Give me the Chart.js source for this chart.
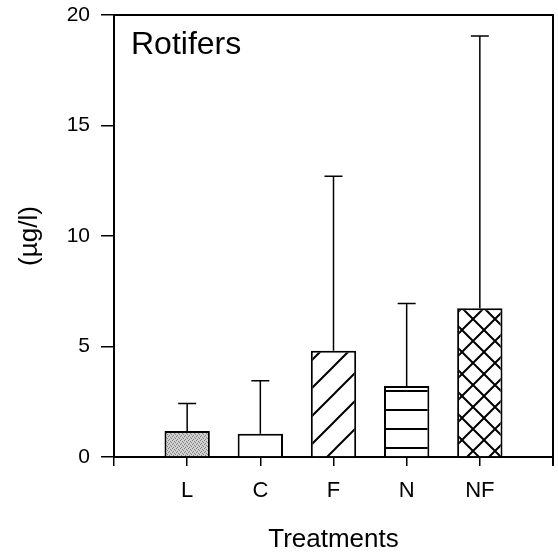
<!DOCTYPE html>
<html>
<head>
<meta charset="utf-8">
<script src="https://cdn.jsdelivr.net/npm/chart.js@4.4.1/dist/chart.umd.min.js"></script>
<style>
  body { margin: 0; background: #fff; }
  #wrap { width: 558px; height: 556px; }
</style>
</head>
<body>
<div id="wrap"><canvas id="myChart" width="558" height="556"></canvas></div>
<script>
// categories (empty ends keep the axis running past L and NF)
const treatments = ["", "L", "C", "F", "N", "NF", ""];
const means = [null, 1.18, 1.05, 4.81, 3.21, 6.73, null];
const upperErr = [null, 2.42, 3.45, 12.7, 6.95, 19.05, null];
const yTicks = [0, 5, 10, 15, 20];
const panelLabel = "Rotifers";

const FONT = "'Liberation Sans', Arial, sans-serif";

// fill patterns for the bars
function makeTile(w, h, draw) {
  const c = document.createElement("canvas");
  c.width = w;
  c.height = h;
  const g = c.getContext("2d");
  g.fillStyle = "#fff";
  g.fillRect(0, 0, w, h);
  g.strokeStyle = "#000";
  g.fillStyle = "#000";
  draw(g, w, h);
  return c.getContext("2d").createPattern(c, "repeat");
}

const stipple = makeTile(4, 4, (g) => {
  g.fillStyle = "#d0d0d0";
  g.fillRect(0, 0, 4, 4);
  g.fillStyle = "#808080";
  g.fillRect(0, 0, 1, 1);
  g.fillRect(2, 1, 1, 1);
  g.fillRect(1, 3, 1, 1);
  g.fillRect(3, 2, 1, 1);
});

const diag = makeTile(28, 28, (g, w, h) => {
  g.lineWidth = 2;
  g.beginPath();
  g.moveTo(-2, h + 2); g.lineTo(w + 2, -2);
  g.moveTo(-2, 2); g.lineTo(2, -2);
  g.moveTo(w - 2, h + 2); g.lineTo(w + 2, h - 2);
  g.stroke();
});

const horiz = makeTile(4, 19, (g, w) => {
  g.fillRect(0, 10, w, 2);
});

const cross = makeTile(22, 22, (g, w, h) => {
  g.lineWidth = 2;
  g.beginPath();
  g.moveTo(-2, h + 2); g.lineTo(w + 2, -2);
  g.moveTo(-2, -2); g.lineTo(w + 2, h + 2);
  g.moveTo(-2, 2); g.lineTo(2, -2);
  g.moveTo(w - 2, h + 2); g.lineTo(w + 2, h - 2);
  g.moveTo(w - 2, -2); g.lineTo(w + 2, 2);
  g.moveTo(-2, h - 2); g.lineTo(2, h + 2);
  g.stroke();
});

const fills = ["#fff", stipple, "#fff", diag, horiz, cross, "#fff"];

// frame, error bars and the panel label
const extras = {
  id: "extras",
  beforeDatasetsDraw(chart) {
    const ctx = chart.ctx;
    const x = chart.scales.x;
    const y = chart.scales.y;
    ctx.save();
    ctx.strokeStyle = "#000";
    ctx.lineWidth = 1.5;
    means.forEach((m, i) => {
      if (m == null) return;
      const px = x.getPixelForValue(i);
      const top = y.getPixelForValue(upperErr[i]);
      const base = y.getPixelForValue(m);
      ctx.beginPath();
      ctx.moveTo(px, base);
      ctx.lineTo(px, top);
      ctx.moveTo(px - 9, top);
      ctx.lineTo(px + 9, top);
      ctx.stroke();
    });
    ctx.restore();
  },
  afterDraw(chart) {
    const ctx = chart.ctx;
    const a = chart.chartArea;
    ctx.save();
    ctx.strokeStyle = "#000";
    ctx.lineWidth = 2;
    ctx.beginPath();
    ctx.moveTo(a.left, a.top);
    ctx.lineTo(a.right, a.top);
    ctx.lineTo(a.right, a.bottom + 9);
    ctx.stroke();
    ctx.fillStyle = "#000";
    ctx.font = "32px " + FONT;
    ctx.textBaseline = "alphabetic";
    ctx.fillText(panelLabel, a.left + 17, a.top + 39);
    ctx.restore();
  }
};

const ctx = document.getElementById("myChart");
new Chart(ctx, {
  type: "bar",
  data: {
    labels: treatments,
    datasets: [
      {
        label: "Rotifers",
        data: means,
        backgroundColor: fills,
        borderColor: "#000",
        borderWidth: 2,
        barPercentage: 0.62,
        categoryPercentage: 1
      }
    ]
  },
  options: {
    responsive: false,
    animation: false,
    devicePixelRatio: 1,
    layout: { padding: { top: 15, right: 5, left: 0, bottom: 0 } },
    plugins: { legend: { display: false }, tooltip: { enabled: false } },
    scales: {
      x: {
        offset: false,
        grid: {
          display: true,
          offset: false,
          drawOnChartArea: false,
          drawTicks: true,
          tickLength: 9,
          color: "#000",
          lineWidth: 1.5
        },
        border: { display: true, color: "#000", width: 2 },
        ticks: {
          color: "#000",
          padding: 12,
          maxRotation: 0,
          autoSkip: false,
          font: { family: FONT, size: 22 }
        },
        title: {
          display: true,
          text: "Treatments",
          color: "#000",
          font: { family: FONT, size: 26 },
          padding: { top: 0, bottom: 1 }
        },
        afterFit(scale) {
          scale.height = 99;
          scale.paddingLeft = 0;
          scale.paddingRight = 0;
        }
      },
      y: {
        min: 0,
        max: 20,
        afterBuildTicks(scale) {
          scale.ticks = yTicks.map((v) => ({ value: v }));
        },
        grid: {
          display: true,
          drawOnChartArea: false,
          drawTicks: true,
          tickLength: 13,
          color: "#000",
          lineWidth: 1.5
        },
        border: { display: true, color: "#000", width: 2 },
        ticks: {
          color: "#000",
          padding: 11,
          font: { family: FONT, size: 21 }
        },
        title: {
          display: true,
          text: "(µg/l)",
          color: "#000",
          font: { family: FONT, size: 26 },
          padding: { top: 14, bottom: 0 }
        },
        afterFit(scale) {
          scale.width = 114;
          scale.paddingTop = 0;
          scale.paddingBottom = 0;
        }
      }
    }
  },
  plugins: [extras]
});
</script>
</body>
</html>
